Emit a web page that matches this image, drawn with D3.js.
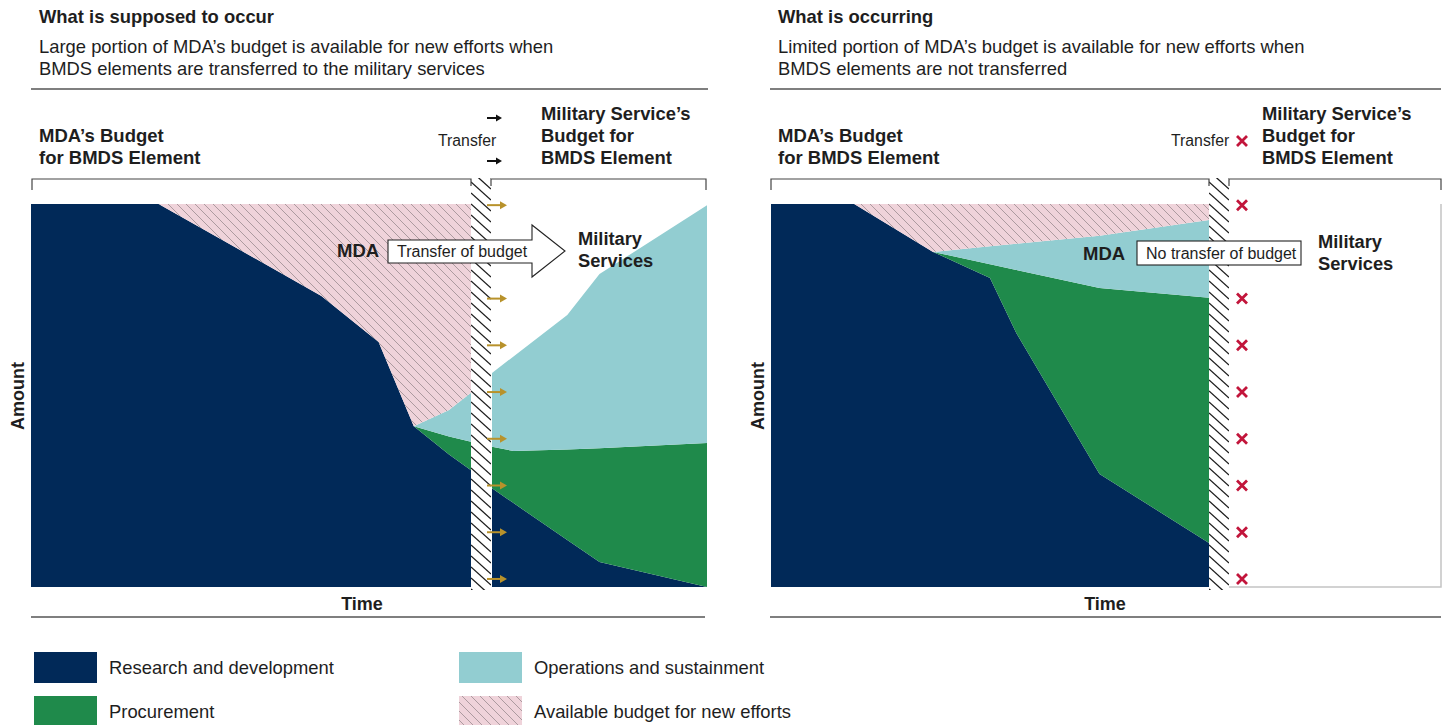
<!DOCTYPE html>
<html><head><meta charset="utf-8">
<script src="https://cdn.jsdelivr.net/npm/d3@7"></script>
<style>
body{margin:0;background:#fff;}
svg text{font-family:"Liberation Sans",Arial,Helvetica,sans-serif;fill:#1e1e1e;}
</style></head><body>
<svg id="c" width="1449" height="725"></svg>
<script>
// ---------- data ----------
const seriesKeys   = ["rd", "proc", "os", "avail"];
const legendLabels = ["Research and development", "Procurement", "Operations and sustainment", "Available budget for new efforts"];
const seriesColors = ["#012958", "#1f8a4b", "#92cdd1", "#efd3da"];

// Panel 1 ("What is supposed to occur"): MDA budget part
const supposedMdaTime  = [0, 29, 66, 79, 87, 95, 100];
const supposedMdaRD    = [100, 100, 76, 64, 42, 34.6, 30.5];
const supposedMdaProc  = [0, 0, 0, 0, 0, 4.7, 7.4];
const supposedMdaOS    = [0, 0, 0, 0, 0, 6.9, 12.8];
const supposedMdaAvail = [0, 0, 24, 36, 58, 53.8, 49.3];

// Panel 1: Military services budget part
const supposedSvcTime = [0, 10, 35, 50, 100];
const supposedSvcRD   = [25.8, 21.9, 12.3, 6.5, 0];
const supposedSvcProc = [10.8, 13.6, 23.6, 29.7, 37.6];
const supposedSvcOS   = [19.3, 24.7, 35.1, 45.5, 62.1];
const supposedSvcAvail= [0, 0, 0, 0, 0];

// Panel 2 ("What is occurring"): MDA budget part
const occurringMdaTime  = [0, 19, 37, 50, 56, 75, 100];
const occurringMdaRD    = [100, 100, 87.5, 80.7, 66.3, 29.5, 11.5];
const occurringMdaProc  = [0, 0, 0, 3.6, 16.5, 48.6, 64];
const occurringMdaOS    = [0, 0, 0, 4.7, 6.8, 13.6, 20.3];
const occurringMdaAvail = [0, 0, 12.5, 11, 10.4, 8.3, 4.2];

// transfer markers (amount positions along the divider)
const markerAmounts = [99.7, 87.5, 75.3, 63.1, 50.9, 38.7, 26.5, 14.3, 2.1];

// texts
const panelTitles    = ["What is supposed to occur", "What is occurring"];
const panelSubtitles = [["Large portion of MDA\u2019s budget is available for new efforts when", "BMDS elements are transferred to the military services"],
                        ["Limited portion of MDA\u2019s budget is available for new efforts when", "BMDS elements are not transferred"]];
const mdaHeading = ["MDA\u2019s Budget", "for BMDS Element"];
const svcHeading = ["Military Service\u2019s", "Budget for", "BMDS Element"];

// ---------- drawing ----------
const svg = d3.select("#c");
const defs = svg.append("defs");
const pat = defs.append("pattern").attr("id","availHatch").attr("patternUnits","userSpaceOnUse")
  .attr("width",9).attr("height",9);
pat.append("rect").attr("width",9).attr("height",9).attr("fill",seriesColors[3]);
pat.append("path").attr("d","M-1,-1 L10,10 M-1,8 L1,10 M8,-1 L10,1")
  .attr("stroke","#9b8c91").attr("stroke-width",0.8);

const fills = [seriesColors[0], seriesColors[1], seriesColors[2], "url(#availHatch)"];

const y = d3.scaleLinear().domain([0,100]).range([587,204]);

function rows(t, rd, pr, os, av){
  return t.map((d,i)=>({t:d, rd:rd[i], proc:pr[i], os:os[i], avail:av[i]}));
}
function drawStack(data, x, keys){
  const st = d3.stack().keys(keys)(data);
  const area = d3.area().x(d=>x(d.data.t)).y0(d=>y(d[0])).y1(d=>y(d[1]));
  svg.append("g").selectAll("path").data(st).join("path")
    .attr("d", area)
    .attr("fill", d=>fills[seriesKeys.indexOf(d.key)])
    .attr("stroke", "none");
}

const x1m = d3.scaleLinear().domain([0,100]).range([31,471]);
const x1s = d3.scaleLinear().domain([0,100]).range([492,707]);
const x2m = d3.scaleLinear().domain([0,100]).range([771,1209]);

drawStack(rows(supposedMdaTime, supposedMdaRD, supposedMdaProc, supposedMdaOS, supposedMdaAvail), x1m, seriesKeys);
drawStack(rows(supposedSvcTime, supposedSvcRD, supposedSvcProc, supposedSvcOS, supposedSvcAvail), x1s, ["rd","proc","os"]);
drawStack(rows(occurringMdaTime, occurringMdaRD, occurringMdaProc, occurringMdaOS, occurringMdaAvail), x2m, seriesKeys);

// right box of panel 2
svg.append("path").attr("d", `M1229,${y(0)} L1441,${y(0)} L1441,${y(100)}`)
  .attr("fill","none").attr("stroke","#c4c4c4").attr("stroke-width",1.5);

// divider hatch strips
function divider(x0, id){
  defs.append("clipPath").attr("id",id).append("rect")
    .attr("x",x0).attr("y",178).attr("width",20).attr("height",412);
  const g = svg.append("g").attr("clip-path",`url(#${id})`);
  g.append("rect").attr("x",x0).attr("y",178).attr("width",20).attr("height",412).attr("fill","#fff");
  g.selectAll("line").data(d3.range(160, 600, 11)).join("line")
    .attr("x1",x0).attr("y1",d=>d).attr("x2",x0+20).attr("y2",d=>d+18)
    .attr("stroke","#1a1a1a").attr("stroke-width",1.3);
}
divider(471,"clipA");
divider(1209,"clipB");

// brackets
function path(d){ return svg.append("path").attr("d",d).attr("stroke","#444").attr("stroke-width",1.2).attr("fill","none"); }
path("M32,190 L32,179 L471,179 L471,186");
path("M491,186 L491,179 L706,179 L706,190");
path("M771,190 L771,179 L1209,179 L1209,186");
path("M1229,186 L1229,179 L1441,179 L1441,190");

// rules
[[31,708,89],[770,1441,89],[31,705,617],[770,1441,617]].forEach(r=>
  svg.append("line").attr("x1",r[0]).attr("x2",r[1]).attr("y1",r[2]).attr("y2",r[2]).attr("stroke","#555").attr("stroke-width",1.5));

// gold arrows
const gold = "#b8922b";
markerAmounts.forEach(a=>{
  const yy = y(a);
  svg.append("line").attr("x1",487).attr("x2",501).attr("y1",yy).attr("y2",yy).attr("stroke",gold).attr("stroke-width",2);
  svg.append("path").attr("d",`M500,${yy-4} L507,${yy} L500,${yy+4} Z`).attr("fill",gold);
});
// red crosses
const red = "#c2153b";
function cross(cx, cy){
  svg.append("path").attr("d",`M${cx-5},${cy-5} L${cx+5},${cy+5} M${cx+5},${cy-5} L${cx-5},${cy+5}`)
    .attr("stroke",red).attr("stroke-width",2.8).attr("fill","none");
}
markerAmounts.forEach(a=>cross(1242, y(a)));

// headings
function txt(x, yy, s, size, weight, anchor){
  return svg.append("text").attr("x",x).attr("y",yy).text(s)
    .style("font-size",size+"px").style("font-weight",weight||"normal").attr("text-anchor",anchor||"start");
}
[39, 778].forEach((px,i)=>{
  txt(px, 23, panelTitles[i], 18.4, "bold");
  panelSubtitles[i].forEach((s,j)=>txt(px, 53+22*j, s, 18.4));
  mdaHeading.forEach((s,j)=>txt(px, 142+22*j, s, 18.5, "bold"));
});
svcHeading.forEach((s,j)=>{ txt(541, 120+22*j, s, 18.4, "bold"); txt(1262, 120+22*j, s, 18.4, "bold"); });
txt(438, 146, "Transfer", 15.8);
txt(1171, 146, "Transfer", 15.8);
cross(1242, 141);
function blackArrow(yy){
  svg.append("line").attr("x1",487).attr("x2",497).attr("y1",yy).attr("y2",yy).attr("stroke","#111").attr("stroke-width",2);
  svg.append("path").attr("d",`M496,${yy-3.5} L502,${yy} L496,${yy+3.5} Z`).attr("fill","#111");
}
blackArrow(118); blackArrow(161);

// in-chart labels
txt(337, 257, "MDA", 18.5, "bold");
svg.append("path").attr("d","M388,240 L532,240 L532,225 L565,251 L532,277 L532,263 L388,263 Z")
  .attr("fill","#fff").attr("stroke","#222").attr("stroke-width",1.1);
txt(397, 257, "Transfer of budget", 16);
txt(578, 245, "Military", 18.3, "bold");
txt(578, 267, "Services", 18.3, "bold");

txt(1083, 260, "MDA", 18.5, "bold");
svg.append("rect").attr("x",1137).attr("y",241).attr("width",164).attr("height",24)
  .attr("fill","#fff").attr("stroke","#222").attr("stroke-width",1.1);
txt(1146, 259, "No transfer of budget", 16);
txt(1318, 248, "Military", 18.3, "bold");
txt(1318, 270, "Services", 18.3, "bold");

// axis titles
txt(362, 610, "Time", 18, "bold", "middle");
txt(1105, 610, "Time", 18, "bold", "middle");
txt(0, 0, "Amount", 18, "bold", "middle").attr("transform","translate(23.5,396) rotate(-90)");
txt(0, 0, "Amount", 18, "bold", "middle").attr("transform","translate(763.5,396) rotate(-90)");

// legend
const legPos = [[34,652],[34,696],[459,652],[459,696]];
legendLabels.forEach((l,i)=>{
  svg.append("rect").attr("x",legPos[i][0]).attr("y",legPos[i][1]).attr("width",63).attr("height",31)
    .attr("fill",fills[i]);
  txt(legPos[i][0]+75, legPos[i][1]+22, l, 18.4);
});
</script>
</body></html>
